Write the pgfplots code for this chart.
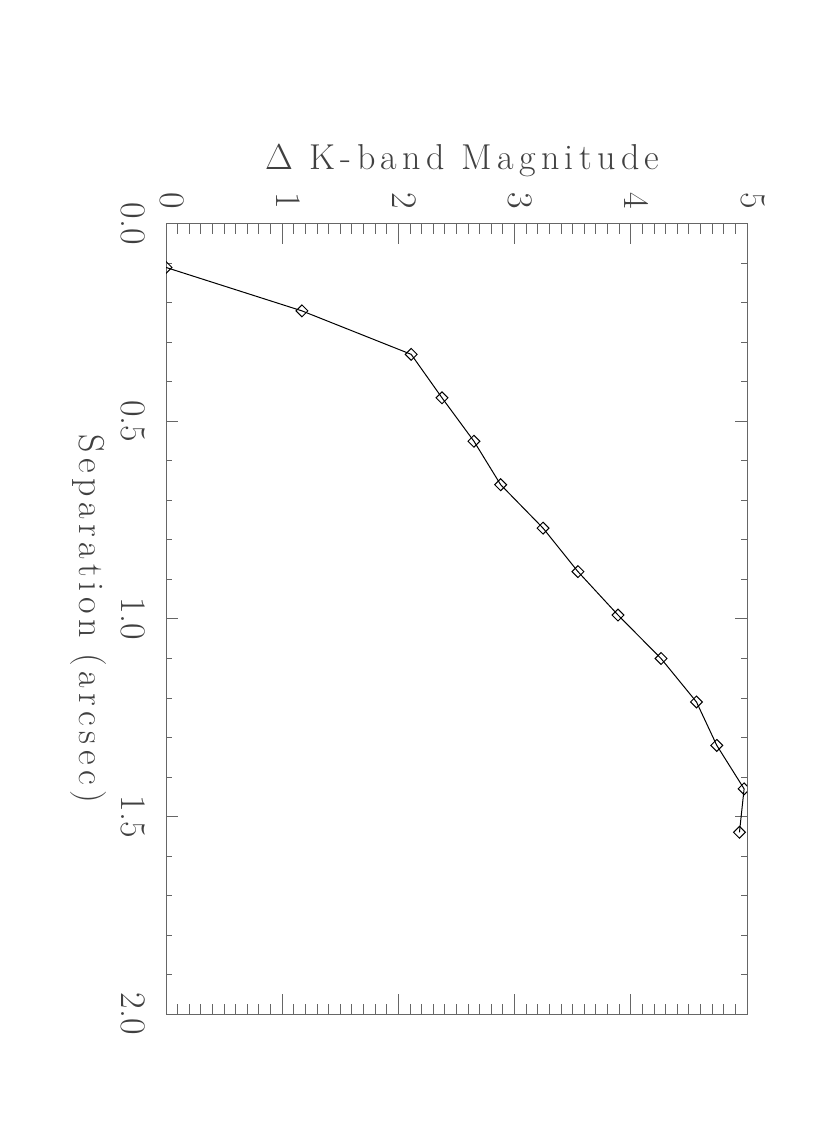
\documentclass[border=0pt]{standalone}
\usepackage{fontspec}
\usepackage{pgfplots}
\pgfplotsset{compat=1.18}
\newfontfamily\lmsp{lmroman17-regular.otf}[LetterSpace=15]
\newfontfamily\lmtk{lmroman17-regular.otf}
\newcommand\labfont{\lmsp\fontsize{18}{20}\selectfont}
\newcommand\tickfont{\lmtk\fontsize{18}{20}\selectfont}
\begin{document}
\begin{tikzpicture}
\path[use as bounding box] (0,0) rectangle (415pt,-563.5pt);
\begin{scope}[shift={(83pt,-112pt)}, rotate=-90, transform shape]
\begin{axis}[
  at={(0,0)}, anchor=south west,
  scale only axis, width=395pt, height=290.5pt,
  xmin=0, xmax=2, ymin=0, ymax=5,
  xtick={0,0.5,1,1.5,2}, xticklabels={0.0,0.5,1.0,1.5,2.0},
  minor x tick num=4,
  ytick={0,1,2,3,4,5}, minor y tick num=9,
  tick align=inside, tick pos=both,
  axis line style={black!60, line width=0.5pt},
  every tick/.style={black!60, line width=0.5pt},
  xtick style={/pgfplots/major tick length=6pt, /pgfplots/minor tick length=3pt},
  ytick style={/pgfplots/major tick length=10pt, /pgfplots/minor tick length=5pt},
  /pgf/number format/assume math mode=true,
  xticklabel style={font=\tickfont, text=black!75, yshift=-7pt},
  yticklabel style={font=\tickfont, text=black!75, yshift=3pt, xshift=-4pt},
  xlabel={Separation (arcsec)},
  ylabel={Δ K-band Magnitude},
  xlabel style={font=\labfont, text=black!75, at={(axis description cs:0.5,0)}, anchor=base, yshift=-43pt},
  ylabel style={font=\labfont, text=black!75, at={(axis description cs:0,0.5)}, anchor=base, yshift=27pt, xshift=3pt},
  clip marker paths=true,
]
\addplot[black, line width=0.5pt, mark=square, mark size=2.1pt, mark options={rotate=45, solid, black}] coordinates {
(0.11,0.0) (0.22,1.17) (0.33,2.11) (0.44,2.375) (0.55,2.65) (0.66,2.88) (0.77,3.245)
(0.88,3.545) (0.99,3.89) (1.10,4.26) (1.21,4.565) (1.32,4.74) (1.43,4.975) (1.54,4.935)
};
\end{axis}
\end{scope}
\end{tikzpicture}
\end{document}
